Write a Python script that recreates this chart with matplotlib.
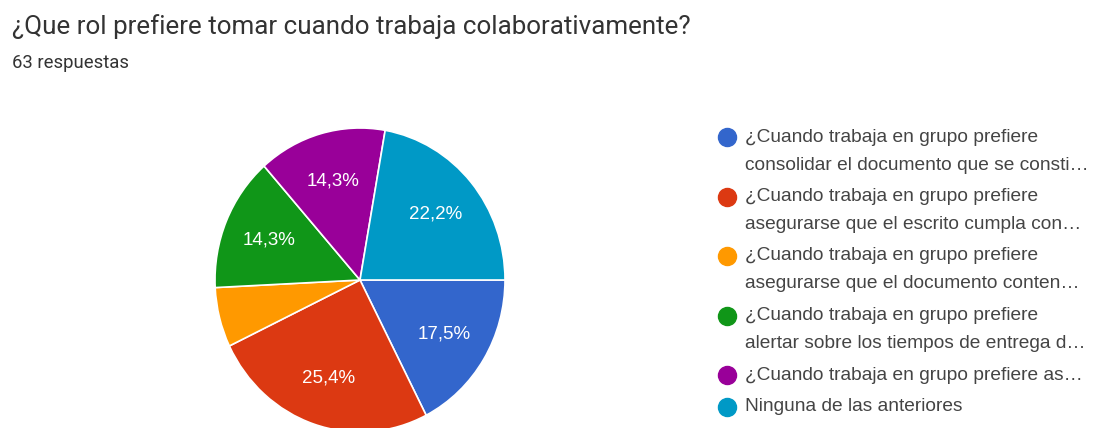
import matplotlib.pyplot as plt

categorias = [
    "¿Cuando trabaja en grupo prefiere\nconsolidar el documento que se consti…",
    "¿Cuando trabaja en grupo prefiere\nasegurarse que el escrito cumpla con…",
    "¿Cuando trabaja en grupo prefiere\nasegurarse que el documento conten…",
    "¿Cuando trabaja en grupo prefiere\nalertar sobre los tiempos de entrega d…",
    "¿Cuando trabaja en grupo prefiere as…",
    "Ninguna de las anteriores",
]
respuestas = [11, 16, 4, 9, 9, 14]
colores = ["#3366cc", "#dc3912", "#ff9900", "#109618", "#990099", "#0099c6"]

W, H = 1094, 428
fig = plt.figure(figsize=(W / 100, H / 100), dpi=100)
fig.patch.set_facecolor("white")

fig.text(12 / W, 1 - 27 / H, "¿Que rol prefiere tomar cuando trabaja colaborativamente?",
         fontsize=18.7, family="Roboto", color="#333333", va="center", ha="left")
fig.text(12 / W, 1 - 63 / H, "63 respuestas",
         fontsize=13.3, family="Roboto", color="#333333", va="center", ha="left")

# pie area (slightly taller than wide, like the screenshot)
ax = fig.add_axes([215 / W, (H - 432) / H, 290 / W, 304 / H])


def etiqueta(p):
    if p < 7:
        return ""
    return f"{p:.1f}%".replace(".", ",")


wedges, textos, autotextos = ax.pie(
    respuestas, colors=colores, startangle=0, counterclock=False,
    autopct=etiqueta, pctdistance=0.68, radius=1,
    wedgeprops=dict(edgecolor="white", linewidth=1.2),
    textprops=dict(color="white", fontsize=13.5, family="Liberation Sans"),
)
ax.set_aspect("auto")
ax.set_xlim(-1, 1)
ax.set_ylim(-1, 1)
ax.axis("off")

# legend
y = 137
for cat, col in zip(categorias, colores):
    lineas = cat.split("\n")
    fig.lines.append(plt.Line2D([727 / W], [1 - y / H], marker="o", markersize=13,
                                color=col, transform=fig.transFigure, linestyle=""))
    for i, ln in enumerate(lineas):
        fig.text(745 / W, 1 - (y + i * 28) / H, ln, fontsize=13.8,
                 family="Liberation Sans", color="#444444", va="center", ha="left")
    y += 28 * (len(lineas) - 1) + 31.5

fig.savefig("out.png", dpi=100)
